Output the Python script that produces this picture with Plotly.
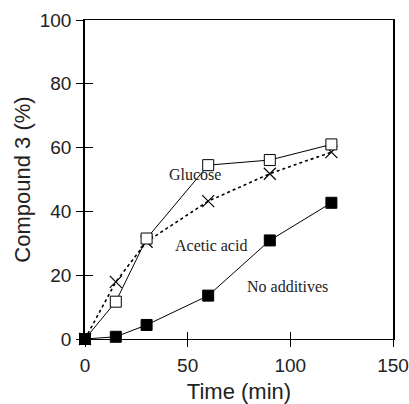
import plotly.graph_objects as go

time = [0, 15, 30, 60, 90, 120]
glucose = [0, 11.7, 31.5, 54.5, 56.1, 61.0]
acetic = [0, 17.9, 30.5, 43.2, 51.8, 58.6]
no_add = [0, 0.7, 4.4, 13.6, 30.9, 42.7]

xticks = [0, 50, 100, 150]
yticks = [0, 20, 40, 60, 80, 100]

fig = go.Figure()
fig.add_trace(go.Scatter(x=time, y=acetic, mode="lines+markers",
                         line=dict(color="black", width=1.6, dash="dot"),
                         marker=dict(symbol="x-thin", size=12, line=dict(color="black", width=1.2))))
fig.add_trace(go.Scatter(x=time, y=glucose, mode="lines+markers",
                         line=dict(color="black", width=1),
                         marker=dict(symbol="square", size=11, color="white",
                                     line=dict(color="black", width=1))))
fig.add_trace(go.Scatter(x=time, y=no_add, mode="lines+markers",
                         line=dict(color="black", width=1),
                         marker=dict(symbol="square", size=11, color="black",
                                     line=dict(color="black", width=1))))

serif = dict(family="Liberation Serif", size=16, color="#222")
fig.add_annotation(x=53.5, y=51.6, text="Glucose", showarrow=False, font=serif)
fig.add_annotation(x=61.5, y=29.4, text="Acetic acid", showarrow=False, font=serif)
fig.add_annotation(x=98.5, y=16.6, text="No additives", showarrow=False, font=serif)

axfont = dict(family="Liberation Sans", size=19, color="#222")
titlefont = dict(family="Liberation Sans", size=22, color="#222")
fig.update_layout(
    width=409, height=404,
    margin=dict(l=85, r=16, t=20, b=65, autoexpand=False),
    plot_bgcolor="white", paper_bgcolor="white",
    showlegend=False,
    xaxis=dict(range=[0, 150], tickvals=xticks, ticks="outside", ticklen=7,
               tickcolor="black", tickwidth=1, showgrid=False, zeroline=False,
               showline=True, linecolor="black", linewidth=1.3, mirror=True,
               tickfont=axfont, automargin=False, ticklabelstandoff=2,
               title=dict(text="Time (min)", font=titlefont, standoff=9)),
    yaxis=dict(range=[0, 100], tickvals=yticks, ticks="outside", ticklen=7,
               tickcolor="black", tickwidth=1, showgrid=False, zeroline=False,
               showline=True, linecolor="black", linewidth=1.6, mirror=True,
               tickfont=axfont, automargin=False, ticklabelstandoff=1,
               title=dict(text="Compound 3 (%)", font=titlefont, standoff=3)),
    xaxis2=dict(range=[0, 150], tickvals=xticks, ticks="inside", ticklen=7,
                tickcolor="black", tickwidth=1, showticklabels=False, showgrid=False,
                zeroline=False, overlaying="x", side="bottom", showline=False),
    yaxis2=dict(range=[0, 100], tickvals=yticks, ticks="inside", ticklen=8,
                tickcolor="black", tickwidth=1, showticklabels=False, showgrid=False,
                zeroline=False, overlaying="y", side="left", showline=False),
)
fig.add_trace(go.Scatter(x=[None], y=[None], xaxis="x2", yaxis="y2", showlegend=False))
for tr in fig.data[:3]:
    tr.cliponaxis = False

fig.write_html("out.html")
